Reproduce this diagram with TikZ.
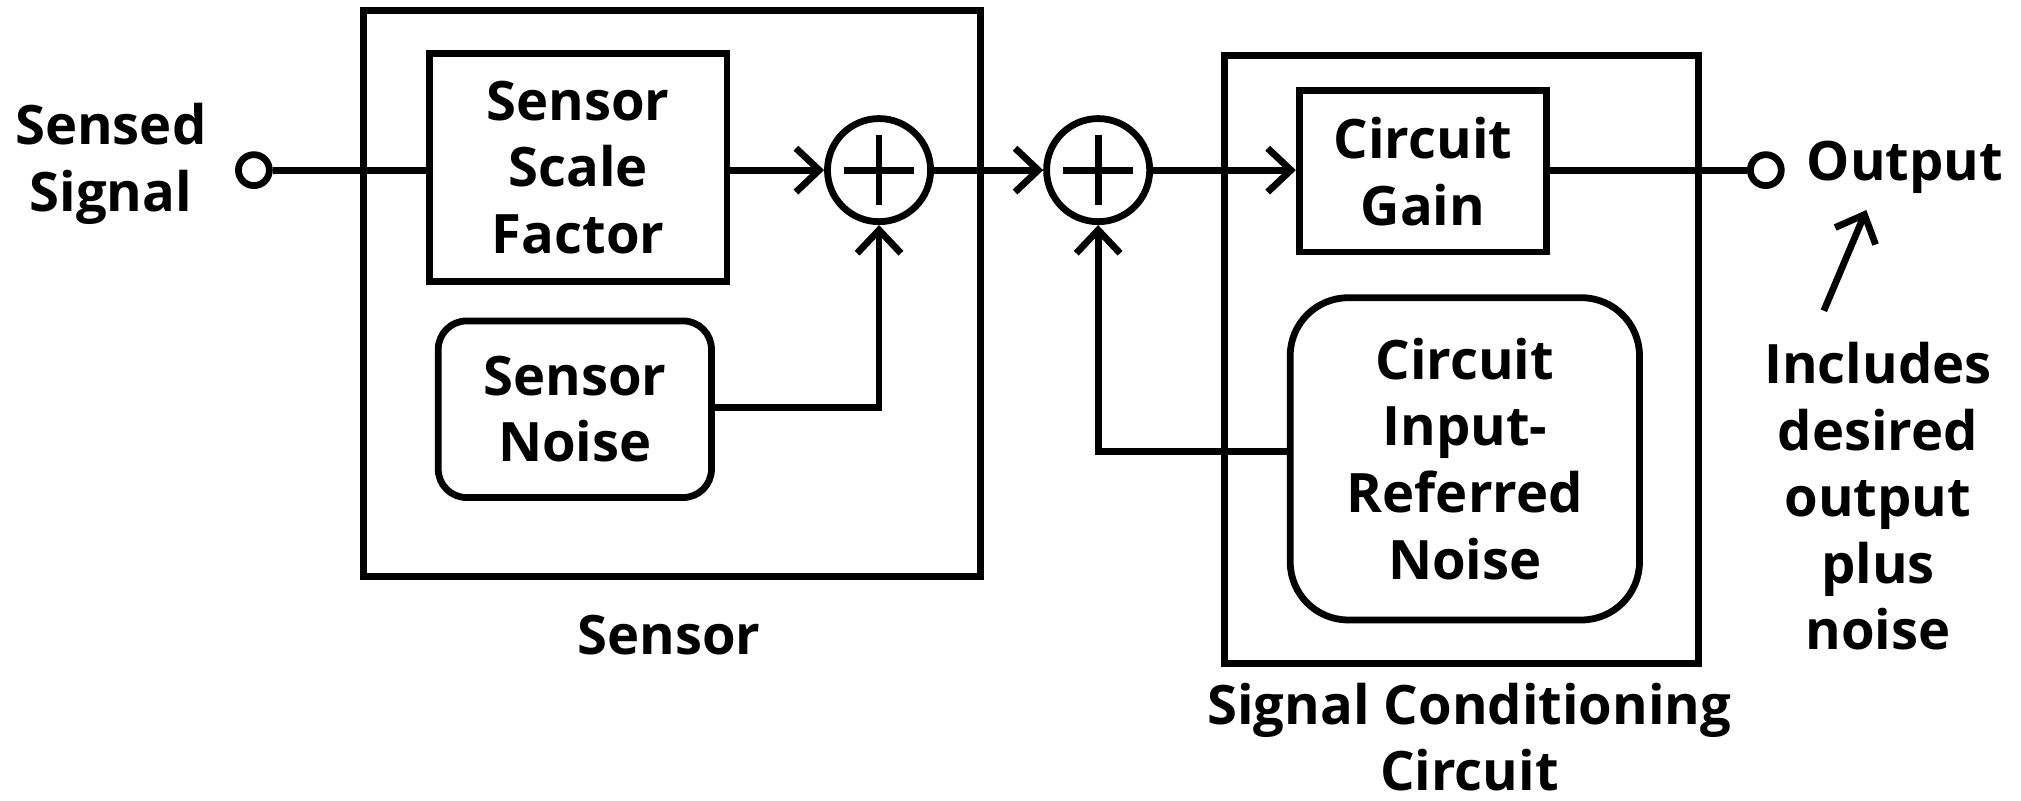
\documentclass[tikz,border=0pt]{standalone}
\usepackage{fontspec}
\setmainfont{Open Sans}
\usetikzlibrary{positioning,arrows.meta,calc}

\begin{document}
\begin{tikzpicture}[
  font=\fontsize{12}{14.7}\selectfont\bfseries,
  line width=1.5pt,
  caja/.style={draw, align=center, inner sep=2pt},
  redonda/.style={caja, rounded corners=0.22cm},
  marco/.style={draw},
  sumador/.style={circle, draw, minimum size=0.8cm, inner sep=0pt,
    path picture={
      \draw ($(path picture bounding box.center)+(-0.27,0)$) -- ++(0.54,0);
      \draw ($(path picture bounding box.center)+(0,-0.27)$) -- ++(0,0.54);
    }},
  borne/.style={circle, draw, fill=white, minimum size=0.24cm, inner sep=0pt},
  flecha/.style={-{Straight Barb[length=1.8mm, width=3.4mm]}},
  texto/.style={align=center}
]
  \useasboundingbox (0,0) rectangle (15.68,-6.21);

  % sensor
  \node[marco, minimum width=4.79cm, minimum height=4.39cm] (sensor) at (5.215,-2.275) {};
  \node[texto] (sensorlbl) at (5.19,-4.93) {Sensor};
  \node[caja, minimum width=2.31cm, minimum height=1.77cm] (escala) at (4.485,-1.30)
        {Sensor\\Scale\\Factor};
  \node[redonda, minimum width=2.12cm, minimum height=1.37cm] (ruidos) at (4.46,-3.175)
        {Sensor\\Noise};
  \node[sumador] (suma1) at (6.82,-1.32) {};

  % acondicionamiento
  \node[marco, minimum width=3.68cm, minimum height=4.72cm] (acond) at (11.34,-2.79) {};
  \node[texto] (acondlbl) at (11.40,-5.72) {Signal Conditioning\\Circuit};
  \node[sumador] (suma2) at (8.52,-1.32) {};
  \node[caja, minimum width=1.92cm, minimum height=1.25cm] (ganancia) at (11.04,-1.33)
        {Circuit\\Gain};
  \node[caja, rounded corners=0.45cm, minimum width=2.71cm, minimum height=2.50cm] (ruidoc) at (11.365,-3.56)
        {Circuit\\Input-\\Referred\\Noise};

  % bornes
  \node[borne] (entrada) at (1.97,-1.32) {};
  \node[texto] (entlbl) at (0.86,-1.27) {Sensed\\Signal};
  \node[borne] (salida) at (13.70,-1.32) {};
  \node[texto] (sallbl) at (14.78,-1.30) {Output};
  \node[texto] (nota) at (14.57,-3.85) {Includes\\desired\\output\\plus\\noise};

  % conexiones
  \draw (entrada) -- (entrada -| escala.west);
  \draw[flecha] (escala.east |- suma1) -- (suma1.west);
  \draw[flecha] (ruidos.east |- 0,-3.16) -| (suma1.south);
  \draw[flecha] (suma1.east) -- (suma2.west);
  \draw[flecha] (suma2.east) -- (ganancia.west |- suma2);
  \draw (ganancia.east |- salida) -- (salida);
  \draw[flecha] ([yshift=0.06cm]ruidoc.west) -| (suma2.south);
  \coordinate (notacola) at ($(nota.north)+(-0.42,0.1)$);
  \coordinate (notapunta) at (14.48,-1.63);
  \draw[flecha] (notacola) -- (notapunta);
\end{tikzpicture}
\end{document}
